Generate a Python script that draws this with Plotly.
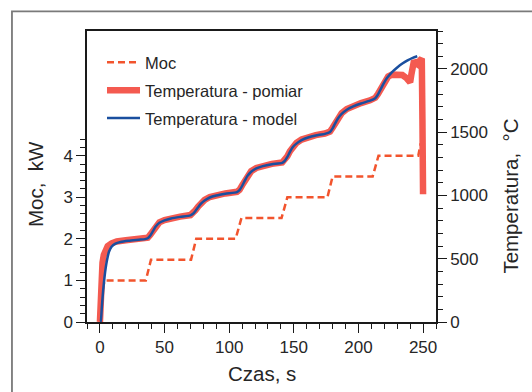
import plotly.graph_objects as go

# ---- data ----
moc_t = [0, 1.5, 3.5, 35.5, 39.5, 70.5, 74.5, 105, 109.5, 140.5, 145, 176, 180, 211, 215.5, 246.3, 248.2]
moc_kw = [0, 0.6, 1.0, 1.0, 1.5, 1.5, 2.0, 2.0, 2.5, 2.5, 3.0, 3.0, 3.5, 3.5, 4.0, 4.0, 4.3]

pomiar_t = [0, 0.5, 1, 2, 3, 4, 6, 9, 13, 20, 28, 35, 37, 39, 41, 43, 46, 50, 55, 62,
            70, 72, 74, 76, 78, 81, 85, 90, 97, 106, 108, 110, 112, 114, 117, 121, 126, 133, 141, 143,
            145, 147, 149, 152, 156, 161, 167, 174, 178, 180, 182, 184, 187, 191, 196, 202, 209, 213, 215, 217,
            219, 221, 223, 226, 230, 234, 237, 239, 240, 241, 242, 243, 244.5, 246, 247, 248, 249, 249.5, 250]
pomiar_T = [0, 230, 360, 470, 530, 565, 600, 622, 636, 646, 652, 656, 666, 690, 725, 758, 788, 806, 820, 833,
            845, 858, 885, 912, 938, 965, 988, 1003, 1016, 1029, 1045, 1080, 1120, 1158, 1192, 1218, 1236, 1250, 1261, 1278,
            1310, 1350, 1385, 1415, 1442, 1462, 1477, 1490, 1505, 1535, 1575, 1612, 1650, 1683, 1708, 1730, 1752, 1772, 1800, 1840,
            1880, 1915, 1940, 1955, 1958, 1952, 1930, 1905, 1895, 1960, 2045, 2065, 2045, 2035, 2060, 2078, 2082, 1600, 1010]

model_t = [0, 0.5, 1.5, 2.5, 3.5, 4.5, 5.5, 7, 9, 12, 16, 22, 30, 35, 37, 39, 41, 43, 46, 50,
           55, 62, 70, 72, 74, 76, 78, 81, 85, 90, 97, 106, 108, 110, 112, 114, 117, 121, 126, 133,
           141, 143, 145, 147, 149, 152, 156, 161, 167, 174, 178, 180, 182, 184, 187, 191, 196, 202, 209, 213,
           215, 217, 219, 221, 223, 226, 230, 234, 238, 242, 245.5]
model_T = [0, 0, 120, 250, 350, 430, 490, 555, 595, 620, 633, 642, 650, 655, 662, 684, 718, 752, 784, 803,
           818, 831, 843, 855, 880, 907, 933, 960, 984, 1000, 1014, 1027, 1042, 1075, 1115, 1153, 1188, 1214, 1232, 1247,
           1258, 1274, 1305, 1345, 1380, 1410, 1437, 1458, 1474, 1487, 1502, 1530, 1570, 1607, 1645, 1678, 1704, 1727, 1749, 1769,
           1796, 1836, 1876, 1912, 1940, 1975, 2012, 2043, 2068, 2088, 2100]

x_ticks = [0, 50, 100, 150, 200, 250]
x_minor = [v for v in range(-10, 261, 10) if v % 50 != 0]
y1_ticks = [0, 1, 2, 3, 4]
y1_minor = [0.2, 0.4, 0.6, 0.8, 1.2, 1.4, 1.6, 1.8, 2.2, 2.4, 2.6, 2.8, 3.2, 3.4, 3.6, 3.8, 4.2, 4.4]
y2_ticks = [0, 500, 1000, 1500, 2000]
y2_minor = [v for v in range(100, 2301, 100) if v % 500 != 0]

FONT = "Liberation Sans, Arial, sans-serif"
TXT = "#262626"
AX = "#1a1a1a"

fig = go.Figure()
fig.add_trace(go.Scatter(x=moc_t, y=moc_kw, mode="lines", name="Moc", yaxis="y",
                         legendgroup="a",
                         line=dict(color="#f2542d", width=2.5, dash="7px,4px")))
fig.add_trace(go.Scatter(x=pomiar_t, y=pomiar_T, mode="lines", name="Temperatura - pomiar", yaxis="y2",
                         legendgroup="b",
                         line=dict(color="#f45a50", width=6.5)))
fig.add_trace(go.Scatter(x=model_t, y=model_T, mode="lines", name="Temperatura - model", yaxis="y2",
                         legendgroup="c",
                         line=dict(color="#1a4f9f", width=2.5, shape="spline", smoothing=0.6)))

axis_common = dict(showgrid=False, zeroline=False, showline=True, linecolor=AX, linewidth=1.5,
                   ticks="outside", ticklen=9, tickwidth=1.3, tickcolor=AX,
                   tickfont=dict(family=FONT, size=17, color=TXT))

fig.update_layout(
    width=532, height=392,
    margin=dict(l=87, r=96, t=31, b=70),
    paper_bgcolor="white", plot_bgcolor="white",
    font=dict(family=FONT, color=TXT),
    xaxis=dict(range=[-10, 260], tickmode="array", tickvals=x_ticks, mirror=True,
               minor=dict(tickmode="array", tickvals=x_minor, ticks="outside", ticklen=5, tickwidth=1.3, tickcolor=AX),
               **axis_common),
    yaxis=dict(range=[0, 7], tickmode="array", tickvals=y1_ticks,
               minor=dict(tickmode="array", tickvals=y1_minor, ticks="outside", ticklen=5, tickwidth=1.3, tickcolor=AX),
               **axis_common),
    yaxis2=dict(range=[0, 2300], overlaying="y", side="right", tickmode="array", tickvals=y2_ticks,
                minor=dict(tickmode="array", tickvals=y2_minor, ticks="outside", ticklen=5, tickwidth=1.3, tickcolor=AX),
                **axis_common),
    showlegend=True,
    legend=dict(x=0.043, y=0.952, xanchor="left", yanchor="top", bgcolor="rgba(0,0,0,0)",
                itemwidth=33,
                font=dict(family=FONT, size=16.5, color=TXT), traceorder="grouped", tracegroupgap=3.5),
    annotations=[
        dict(text="Czas, s", xref="paper", yref="paper", x=0.5, y=-0.1785, showarrow=False,
             xanchor="center", yanchor="middle", font=dict(family=FONT, size=20.5, color=TXT)),
        dict(text="Moc,  kW", xref="paper", yref="paper", x=-0.149, y=0.474, showarrow=False, textangle=-90,
             xanchor="center", yanchor="middle", font=dict(family=FONT, size=20.5, color=TXT)),
        dict(text="Temperatura,  °C", xref="paper", yref="paper", x=1.215, y=0.431, showarrow=False, textangle=-90,
             xanchor="center", yanchor="middle", font=dict(family=FONT, size=20.5, color=TXT)),
    ],
    shapes=[dict(type="rect", xref="paper", yref="paper", x0=-0.215, x1=1.6, y0=-0.6, y1=1.0676,
                 line=dict(color="#7a7a7a", width=1.8), fillcolor="rgba(0,0,0,0)", layer="above")],
)

fig.write_html("out.html")
